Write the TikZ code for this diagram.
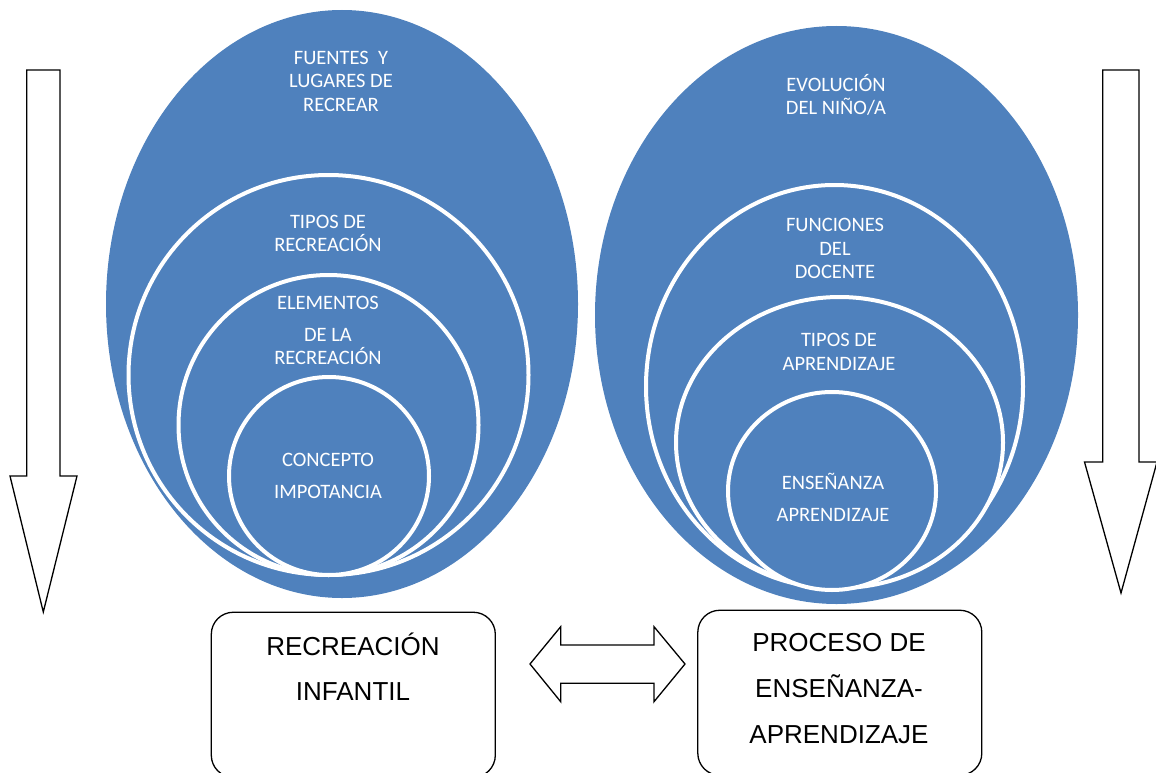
\documentclass[tikz,border=0pt]{standalone}
\usepackage{fontspec}
\setmainfont{Liberation Sans}
\newfontfamily\calfont{Carlito}
\usetikzlibrary{shapes.geometric}
\definecolor{ringblue}{HTML}{4F81BD}

\begin{document}
\begin{tikzpicture}[x=1pt,y=-1pt,
  arrowbox/.style={draw=black,fill=white,line width=1.3pt,line join=miter},
  box/.style={draw=black,line width=1.3pt,rounded corners=22pt,minimum width=284pt,minimum height=165pt,inner sep=0pt},
  ringtext/.style={align=center,text=white,inner sep=0pt,font=\calfont\fontsize{20.5}{23.5}\selectfont},
  boxtext/.style={align=center,text=black,inner sep=0pt,font=\fontsize{26}{45.5}\selectfont}]
\newcommand{\ringw}{4pt}
\clip (0,0) rectangle (1156,773);
% nested rings
\begin{scope}[shape=ellipse,inner sep=0pt]
\tikzstyle{every node}=[fill=ringblue,draw=white,line width=\ringw]
\node[draw=none,minimum width=472pt,minimum height=588pt] (L_1) at (342,304) {};
\node[minimum width=400pt,minimum height=400pt] (L_2) at (328.5,375) {};
\node[minimum width=300pt,minimum height=300pt] (L_3) at (328.5,425) {};
\node[minimum width=200pt,minimum height=198pt] (L_4) at (329,476) {};
\node[draw=none,minimum width=483pt,minimum height=578pt] (R_1) at (836.5,315) {};
\node[minimum width=377pt,minimum height=403pt] (R_2) at (834.5,386.5) {};
\node[minimum width=327pt,minimum height=291pt] (R_3) at (839.5,442.5) {};
\node[minimum width=208pt,minimum height=198pt] (R_4) at (832,491) {};
\end{scope}
% ring labels
\node[ringtext] (T_fuentes) at (341,81) {FUENTES\ \ Y\\LUGARES DE\\RECREAR};
\node[ringtext] (T_tipos) at (328,233.5) {TIPOS DE\\RECREACIÓN};
\node[ringtext] (T_elementos) at (328,330.5) {ELEMENTOS\\[8.5pt]DE LA\\RECREACIÓN};
\node[ringtext] (T_concepto) at (328,476) {CONCEPTO\\[8.5pt]IMPOTANCIA};
\node[ringtext] (T_evolucion) at (836,95) {EVOLUCIÓN\\DEL NIÑO/A};
\node[ringtext] (T_funciones) at (835,248.5) {FUNCIONES\\DEL\\DOCENTE};
\node[ringtext] (T_aprendizaje) at (839,352) {TIPOS DE\\APRENDIZAJE};
\node[ringtext] (T_ensenanza) at (833,497.5) {ENSEÑANZA\\[9pt]APRENDIZAJE};
% block arrows
\draw[arrowbox] (26.7,70) -- (60,70) -- (60,476) -- (77,476) -- (43.3,612)
  -- (10,476) -- (26.7,476) -- cycle;
\draw[arrowbox] (1102.7,70) -- (1139,70) -- (1139,462) -- (1157,462) -- (1121,593)
  -- (1084.5,462) -- (1102.7,462) -- cycle;
\draw[arrowbox] (530,664) -- (560.7,626.7) -- (560.7,645) -- (654,645) -- (654,626.7)
  -- (685,664) -- (654,701.7) -- (654,683.3) -- (560.7,683.3) -- (560.7,701.7) -- cycle;
% bottom boxes
\node[box,anchor=north] (B_recreacion) at (353.3,611.6) {};
\node[box,anchor=north] (B_proceso) at (839.8,609.6) {};
\node[boxtext] (T_recreacion) at (353,666.5) {RECREACIÓN\\INFANTIL};
\node[boxtext,font=\fontsize{26}{46}\selectfont] (T_proceso) at (839,689) {PROCESO DE\\ENSEÑANZA-\\APRENDIZAJE};
\end{tikzpicture}
\end{document}
